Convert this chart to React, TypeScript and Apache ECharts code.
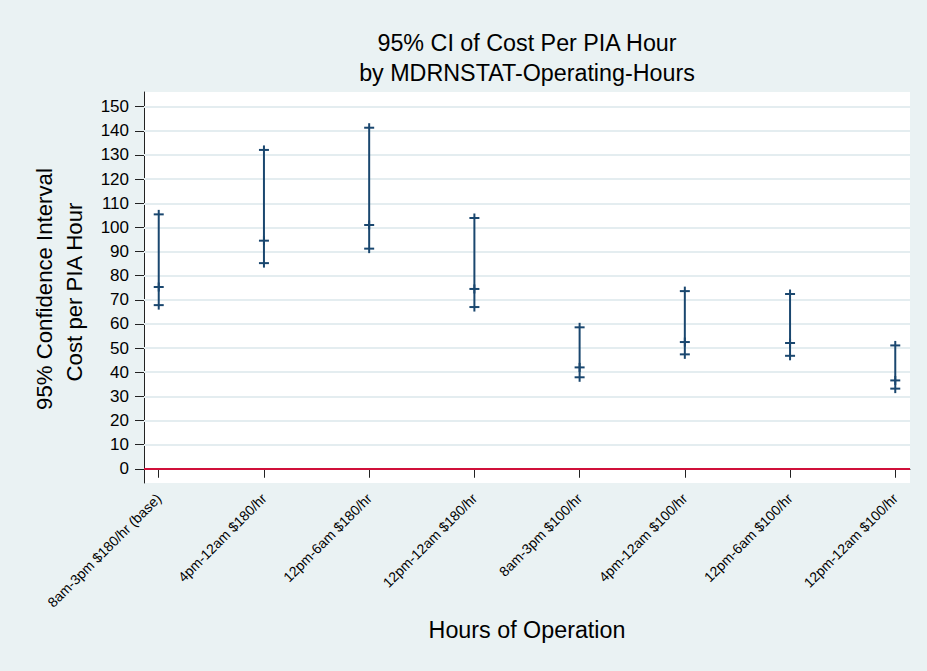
import React, { useEffect, useRef } from "react";
import * as echarts from "echarts";

const categories = [
  "8am-3pm $180/hr (base)",
  "4pm-12am $180/hr",
  "12pm-6am $180/hr",
  "12pm-12am $180/hr",
  "8am-3pm $100/hr",
  "4pm-12am $100/hr",
  "12pm-6am $100/hr",
  "12pm-12am $100/hr",
];
const lowerCI = [67.8, 85.2, 91.2, 67.0, 37.9, 47.4, 46.8, 33.2];
const meanCost = [75.3, 94.5, 101.0, 74.5, 42.0, 52.5, 52.1, 36.6];
const upperCI = [105.4, 132.1, 141.3, 103.9, 58.6, 73.6, 72.4, 51.1];
const yTicks = [0, 10, 20, 30, 40, 50, 60, 70, 80, 90, 100, 110, 120, 130, 140, 150];
const xTicks = [1, 2, 3, 4, 5, 6, 7, 8];
const gridValues = [10, 20, 30, 40, 50, 60, 70, 80, 90, 100, 110, 120, 130, 140, 150];
const refLine = 0;

const FONT = "'Liberation Sans', Arial, Helvetica, sans-serif";
const NAVY = "#1a476f";

export default function App() {
  const ref = useRef<HTMLDivElement>(null);
  useEffect(() => {
    if (!ref.current) return;
    const chart = echarts.init(ref.current, undefined, { renderer: "svg" });
    const data = categories.map((_, i) => [xTicks[i], lowerCI[i], meanCost[i], upperCI[i]]);
    const option: any = {
      animation: false,
      backgroundColor: "#eaf2f3",
      textStyle: { fontFamily: FONT },
      grid: {
        left: 144,
        top: 92,
        right: 17,
        bottom: 188,
        show: true,
        backgroundColor: "#ffffff",
        borderWidth: 0,
      },
      xAxis: {
        type: "value",
        min: 0.86,
        max: 8.14,
        axisLine: { show: true, lineStyle: { color: "#222", width: 1 } },
        axisTick: { show: true, length: 9, customValues: xTicks, lineStyle: { color: "#222", width: 1 } },
        axisLabel: {
          customValues: xTicks,
          rotate: 45,
          margin: 13,
          fontSize: 14,
          color: "#000",
          fontFamily: FONT,
          formatter: (v: number) => categories[Math.round(v) - 1] ?? "",
        },
        splitLine: { show: false },
      },
      yAxis: {
        type: "value",
        min: -5.9,
        max: 156.1,
        axisLine: { show: true, lineStyle: { color: "#222", width: 1 } },
        axisTick: { show: true, length: 9, customValues: yTicks, lineStyle: { color: "#222", width: 1 } },
        axisLabel: {
          customValues: yTicks,
          margin: 15,
          fontSize: 17,
          color: "#000",
          fontFamily: FONT,
        },
        splitLine: { show: false },
      },
      graphic: [
        {
          type: "text",
          x: 527,
          y: 43,
          style: { text: "95% CI of Cost Per PIA Hour", textAlign: "center", textVerticalAlign: "middle", font: `23.3px ${FONT}`, fill: "#000" },
        },
        {
          type: "text",
          x: 527,
          y: 73,
          style: { text: "by MDRNSTAT-Operating-Hours", textAlign: "center", textVerticalAlign: "middle", font: `23.3px ${FONT}`, fill: "#000" },
        },
        {
          type: "text",
          x: 527,
          y: 630,
          style: { text: "Hours of Operation", textAlign: "center", textVerticalAlign: "middle", font: `23.3px ${FONT}`, fill: "#000" },
        },
        {
          type: "text",
          x: 44,
          y: 289,
          rotation: Math.PI / 2,
          style: { text: "95% Confidence Interval", textAlign: "center", textVerticalAlign: "middle", font: `22.2px ${FONT}`, fill: "#000" },
        },
        {
          type: "text",
          x: 74,
          y: 292,
          rotation: Math.PI / 2,
          style: { text: "Cost per PIA Hour", textAlign: "center", textVerticalAlign: "middle", font: `22.2px ${FONT}`, fill: "#000" },
        },
      ],
      series: [
        {
          type: "line",
          data: [],
          z: 1,
          silent: true,
          markLine: {
            silent: true,
            symbol: ["none", "none"],
            label: { show: false },
            lineStyle: { color: "#e4edf0", width: 2, type: "solid" },
            data: [
              ...gridValues.map((v) => ({ yAxis: v })),
              { yAxis: refLine, lineStyle: { color: "#d0103a", width: 2, type: "solid" } },
            ],
          },
        },
        {
          type: "custom",
          z: 5,
          data,
          renderItem: (params: any, api: any) => {
            const x = api.value(0);
            const lo = api.coord([x, api.value(1)]);
            const mid = api.coord([x, api.value(2)]);
            const hi = api.coord([x, api.value(3)]);
            const hw = 5;
            const ext = 4.5;
            const style = { stroke: NAVY, lineWidth: 2 };
            const cap = (p: number[]) => ({
              type: "line",
              shape: { x1: p[0] - hw, y1: p[1], x2: p[0] + hw, y2: p[1] },
              style,
            });
            return {
              type: "group",
              children: [
                { type: "line", shape: { x1: hi[0], y1: hi[1] - ext, x2: lo[0], y2: lo[1] + ext }, style },
                cap(lo),
                cap(mid),
                cap(hi),
                { type: "line", shape: { x1: mid[0], y1: mid[1] - ext, x2: mid[0], y2: mid[1] + ext }, style },
              ],
            };
          },
        },
      ],
    };
    chart.setOption(option);
    return () => chart.dispose();
  }, []);
  return <div ref={ref} style={{ position: "absolute", left: 0, top: 0, width: 927, height: 671 }} />;
}
